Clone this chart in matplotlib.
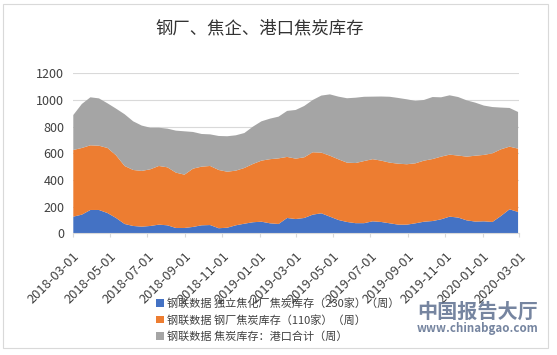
import matplotlib.pyplot as plt
import matplotlib.dates as mdates
from matplotlib.patches import Rectangle
import numpy as np
import pandas as pd

plt.rcParams['font.family'] = ['Noto Sans CJK SC', 'DejaVu Sans']

# biweekly readings, 2018-03-02 .. 2020-02-28
dates = pd.date_range('2018-03-02', periods=53, freq='14D')

coking_230 = [125, 140, 175, 175, 152, 115, 70, 55, 50, 55, 65, 60, 40, 40, 48, 60,
              62, 38, 42, 60, 72, 83, 87, 75, 70, 115, 107, 115, 140, 150, 125, 100,
              85, 76, 76, 90, 85, 75, 65, 65, 75, 87, 92, 105, 125, 118, 97, 88,
              90, 85, 130, 180, 160]
steel_110 = [500, 500, 485, 482, 488, 470, 435, 420, 418, 425, 440, 435, 415, 400, 437, 440,
             443, 437, 420, 410, 418, 437, 458, 481, 492, 458, 453, 455, 468, 455, 457, 455,
             445, 451, 466, 466, 460, 455, 457, 453, 450, 458, 465, 470, 465, 465, 478, 494,
             498, 515, 500, 470, 475]
port_total = [262, 330, 360, 355, 335, 350, 388, 365, 340, 312, 287, 290, 315, 325, 275, 245,
              237, 255, 266, 265, 262, 280, 295, 304, 313, 345, 365, 385, 392, 428, 460, 470,
              483, 490, 482, 469, 481, 494, 493, 487, 468, 455, 465, 445, 445, 439, 422, 398,
              370, 347, 313, 290, 275]

labels = ['钢联数据 独立焦化厂焦炭库存（230家）（周）',
          '钢联数据 钢厂焦炭库存（110家）（周）',
          '钢联数据 焦炭库存：港口合计（周）']
colors = ['#4472C4', '#ED7D31', '#A5A5A5']
tick_dates = pd.date_range('2018-03-01', '2020-03-01', freq='2MS')

fig = plt.figure(figsize=(5.57, 3.55), dpi=100)
ax = fig.add_axes([0.1305, 0.3428, 0.8018, 0.4507])

ax.stackplot(dates, coking_230, steel_110, port_total, colors=colors, labels=labels,
             linewidth=0)

ax.set_ylim(0, 1200)
ax.set_yticks(np.arange(0, 1201, 200))
ax.set_xlim(pd.Timestamp('2018-03-01'), pd.Timestamp('2020-03-01'))
ax.set_xticks(tick_dates)
ax.xaxis.set_major_formatter(mdates.DateFormatter('%Y-%m-%d'))
plt.setp(ax.get_xticklabels(), rotation=45, ha='right', rotation_mode='anchor')

ax.grid(axis='y', color='#D9D9D9', linewidth=0.8)
ax.set_axisbelow(True)
for s in ['top', 'right', 'left']:
    ax.spines[s].set_visible(False)
ax.spines['bottom'].set_color('#D9D9D9')
ax.tick_params(axis='y', length=0, labelsize=9, colors='#404040', pad=6)
ax.tick_params(axis='x', length=3, color='#D9D9D9', labelsize=9.3, pad=9)
ax.tick_params(axis='x', labelcolor='#404040')

fig.text(0.467, 0.921, '钢厂、焦企、港口焦炭库存', ha='center', va='center',
         fontsize=12.5, color='#333333')

leg = fig.legend(loc='upper left', bbox_to_anchor=(0.272, 0.172), frameon=False,
                 fontsize=8, handlelength=0.7, handleheight=0.7, handletextpad=0.3,
                 labelspacing=0.5, borderaxespad=0)
for t in leg.get_texts():
    t.set_color('#404040')

# watermark
fig.text(0.858, 0.122, '中国报告大厅', ha='center', va='center', fontsize=14.5,
         color='#5E7090', alpha=0.85, fontweight='bold')
fig.text(0.858, 0.076, 'www.chinabgao.com', ha='center', va='center', fontsize=8.3,
         color='#5E7090', alpha=0.85, fontweight='bold')

fig.patches.append(Rectangle((0.006, 0.02), 0.977, 0.97, transform=fig.transFigure,
                             fill=False, edgecolor='#D9D9D9', linewidth=0.8))

plt.savefig('out.png', dpi=100)
